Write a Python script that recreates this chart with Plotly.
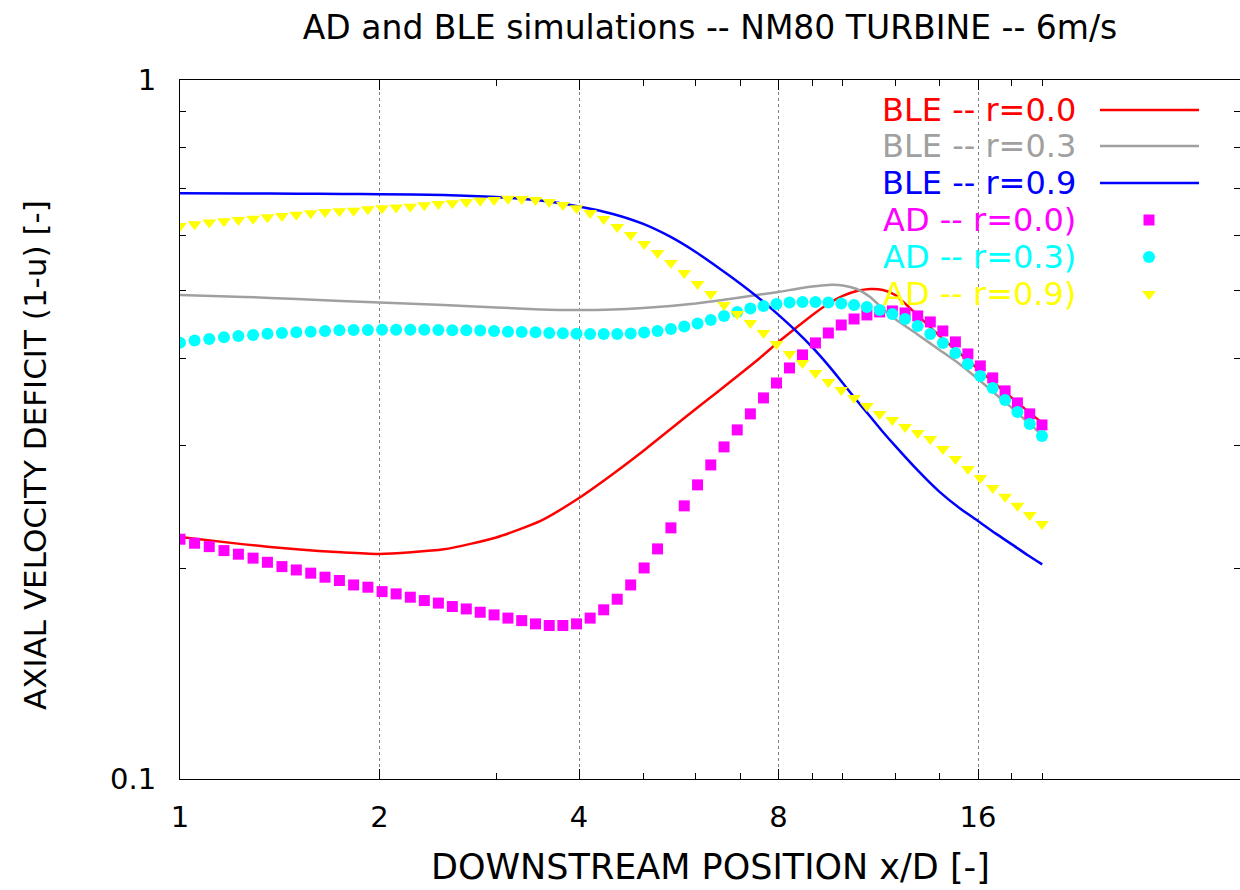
import math
import plotly.graph_objects as go

# ---------------- data ----------------
x_ad = [1.000, 1.052, 1.107, 1.165, 1.225, 1.289, 1.355, 1.425, 1.498, 1.575,
        1.655, 1.740, 1.828, 1.921, 2.018, 2.119, 2.226, 2.337, 2.454, 2.576,
        2.704, 2.838, 2.978, 3.125, 3.278, 3.439, 3.607, 3.782, 3.966, 4.158,
        4.358, 4.568, 4.787, 5.016, 5.255, 5.505, 5.766, 6.039, 6.323, 6.621,
        6.931, 7.255, 7.593, 7.944, 8.312, 8.696, 9.096, 9.513, 9.949, 10.402,
        10.876, 11.369, 11.883, 12.418, 12.976, 13.556, 14.161, 14.791, 15.447, 16.129,
        16.840, 17.580, 18.349, 19.150, 19.983]

ad_r00 = [.2203, .2174, .2150, .2122, .2097, .2070, .2042, .2013, .1991, .1970,
          .1944, .1923, .1895, .1881, .1854, .1840, .1820, .1800, .1785, .1765,
          .1751, .1732, .1717, .1699, .1685, .1667, .1658, .1658, .1667, .1699,
          .1746, .1808, .1895, .2004, .2134, .2287, .2459, .2635, .2814, .2986,
          .3158, .3329, .3509, .3686, .3873, .4043, .4206, .4346, .4462, .4551,
          .4612, .4658, .4673, .4642, .4597, .4507, .4375, .4220, .4056, .3899,
          .3748, .3591, .3452, .3329, .3210]

ad_r03 = [.4210, .4238, .4261, .4285, .4304, .4318, .4336, .4346, .4356, .4365,
          .4375, .4385, .4390, .4390, .4394, .4394, .4394, .4394, .4390, .4385,
          .4385, .4380, .4375, .4365, .4361, .4356, .4346, .4341, .4336, .4332,
          .4332, .4332, .4339, .4353, .4375, .4404, .4440, .4485, .4537, .4597,
          .4658, .4712, .4751, .4782, .4806, .4814, .4814, .4806, .4790, .4766,
          .4735, .4688, .4627, .4551, .4448, .4332, .4206, .4069, .3925, .3773,
          .3626, .3486, .3351, .3221, .3096]

ad_r09 = [.6183, .6217, .6254, .6279, .6306, .6333, .6362, .6390, .6417, .6447,
          .6474, .6489, .6502, .6532, .6554, .6568, .6588, .6619, .6647, .6663,
          .6691, .6720, .6735, .6764, .6758, .6735, .6691, .6625, .6554, .6453,
          .6327, .6162, .6002, .5827, .5657, .5473, .5296, .5108, .4942, .4766,
          .4627, .4492, .4346, .4192, .4056, .3938, .3810, .3699, .3603, .3509,
          .3418, .3329, .3264, .3189, .3127, .3066, .2966, .2870, .2777, .2696,
          .2609, .2533, .2459, .2387, .2317]

x_ble = [1, 1.25, 1.5, 1.75, 2, 2.5, 3, 3.5, 4, 4.5, 5, 5.5, 6, 6.5, 7, 7.5, 8,
         8.5, 9, 9.5, 10, 10.5, 11, 11.5, 12, 13, 14, 15, 16, 17, 18, 19, 20]

ble_r00 = [.2220, .2166, .2131, .2110, .2099, .2131, .2216, .2340, .2524, .2732,
           .2947, .3168, .3384, .3591, .3797, .4003, .4220, .4419, .4612, .4782,
           .4910, .4991, .5024, .5008, .4926, .4597, .4304, .4069, .3860, .3674,
           .3509, .3362, .3232]

ble_r03 = [.4926, .4894, .4861, .4829, .4803, .4766, .4727, .4696, .4688, .4696,
           .4719, .4751, .4790, .4837, .4885, .4934, .4975, .5024, .5066, .5091,
           .5083, .5024, .4894, .4704, .4551, .4318, .4110, .3925, .3735, .3555,
           .3395, .3242, .3106]

ble_r09 = [.6886, .6882, .6877, .6870, .6863, .6849, .6802, .6724, .6593, .6432,
           .6224, .5963, .5675, .5384, .5116, .4861, .4612, .4375, .4144, .3912,
           .3686, .3480, .3301, .3137, .2996, .2759, .2575, .2442, .2340, .2246,
           .2166, .2092, .2028]

x_tickvals = [1, 2, 4, 8, 16]
x_ticktext = ["1", "2", "4", "8", "16"]
x_minor = [3, 5, 6, 7, 9, 10, 12, 14, 18, 20]
y_tickvals = [0.1, 1]
y_ticktext = ["0.1", "1"]
y_minor = [0.2, 0.3, 0.4, 0.5, 0.6, 0.7, 0.8, 0.9]

title_text = "AD and BLE simulations -- NM80 TURBINE -- 6m/s"
xtitle = "DOWNSTREAM POSITION x/D [-]"
ytitle = "AXIAL VELOCITY DEFICIT (1-u) [-]"

ble_names = ["BLE -- r=0.0", "BLE -- r=0.3", "BLE -- r=0.9"]
ad_names = ["AD -- r=0.0)", "AD -- r=0.3)", "AD -- r=0.9)"]

RED, GRAY, BLUE = "#ff0000", "#a0a0a0", "#0000ff"
MAG, CYAN, YEL = "#ff00ff", "#00ffff", "#ffff00"
FONT = "DejaVu Sans"

# ---------------- geometry ----------------
W, H = 1240, 890
L, R, T, B = 180, 0, 80, 111
PW, PH = W - L - R, H - T - B
X_MAX = 2 ** (PW / 199.5)


def px(xp):
    return (xp - L) / PW


def py(yp):
    return (H - B - yp) / PH


fig = go.Figure()

for xs, ys, c, n in [(x_ble, ble_r00, RED, ble_names[0]),
                     (x_ble, ble_r03, GRAY, ble_names[1]),
                     (x_ble, ble_r09, BLUE, ble_names[2])]:
    fig.add_trace(go.Scatter(x=xs, y=ys, mode="lines", name=n,
                             line=dict(color=c, width=2.5, shape="spline", smoothing=0.6)))

for ys, c, sym, sz, n in [(ad_r00, MAG, "square", 11, ad_names[0]),
                          (ad_r03, CYAN, "circle", 12, ad_names[1]),
                          (ad_r09, YEL, "triangle-down", 12, ad_names[2])]:
    fig.add_trace(go.Scatter(x=x_ad, y=ys, mode="markers", name=n,
                             marker=dict(color=c, symbol=sym, size=sz, line=dict(width=0))))

# ---------------- manual legend ----------------
rows = [110, 146, 183, 220, 257, 294]
names = ble_names + ad_names
cols = [RED, GRAY, BLUE, MAG, CYAN, YEL]
annotations = []
shapes = []
for yrow, name, col in zip(rows, names, cols):
    annotations.append(dict(text=name, x=px(1078), y=py(yrow), xref="paper", yref="paper",
                            xanchor="right", yanchor="middle", showarrow=False,
                            font=dict(family=FONT, size=32, color=col)))
for yrow, col in zip(rows[:3], cols[:3]):
    shapes.append(dict(type="line", xref="paper", yref="paper", x0=px(1100), x1=px(1199),
                       y0=py(yrow), y1=py(yrow), line=dict(color=col, width=2.5)))

for yrow, col, sym, sz in [(rows[3], MAG, "square", 11), (rows[4], CYAN, "circle", 12),
                           (rows[5], YEL, "triangle-down", 12)]:
    fig.add_trace(go.Scatter(x=[px(1149)], y=[py(yrow)], xaxis="x2", yaxis="y2",
                             mode="markers", showlegend=False, cliponaxis=False,
                             marker=dict(color=col, symbol=sym, size=sz, line=dict(width=0))))

# axis titles
annotations.append(dict(text=xtitle, x=px(710), y=py(867), xref="paper", yref="paper",
                        xanchor="center", yanchor="middle", showarrow=False,
                        font=dict(family=FONT, size=35, color="black")))
annotations.append(dict(text=ytitle, x=px(35), y=py(455), xref="paper", yref="paper",
                        xanchor="center", yanchor="middle", showarrow=False, textangle=-90,
                        font=dict(family=FONT, size=31, color="black")))

axis_common = dict(showline=True, linecolor="black", linewidth=1, mirror="allticks",
                   ticks="inside", ticklen=10, tickwidth=1, tickcolor="black",
                   zeroline=False, tickfont=dict(family=FONT, size=29, color="black"))

fig.update_layout(
    width=W, height=H,
    margin=dict(l=L, r=R, t=T, b=B, pad=0),
    paper_bgcolor="white", plot_bgcolor="white",
    font=dict(family=FONT, color="black"),
    showlegend=False,
    title=dict(text=title_text, x=710 / W, xref="container", xanchor="center",
               y=1 - 27 / H, yref="container", yanchor="middle",
               font=dict(family=FONT, size=33, color="black")),
    xaxis=dict(type="log", range=[0, math.log10(X_MAX)], tickvals=x_tickvals, ticktext=x_ticktext,
               showgrid=True, gridcolor="#808080", griddash="dot", gridwidth=1,
               ticklabelstandoff=12,
               minor=dict(tickvals=x_minor, ticks="inside", ticklen=6, tickcolor="black",
                          showgrid=False),
               **axis_common),
    yaxis=dict(type="log", range=[-1, 0], tickvals=y_tickvals, ticktext=y_ticktext,
               showgrid=False, ticklabelstandoff=17,
               minor=dict(tickvals=y_minor, ticks="inside", ticklen=6, tickcolor="black",
                          showgrid=False),
               **axis_common),
    xaxis2=dict(overlaying="x", range=[0, 1], visible=False, fixedrange=True),
    yaxis2=dict(overlaying="y", range=[0, 1], visible=False, fixedrange=True),
    annotations=annotations,
    shapes=shapes,
)

fig.write_html("out.html")
